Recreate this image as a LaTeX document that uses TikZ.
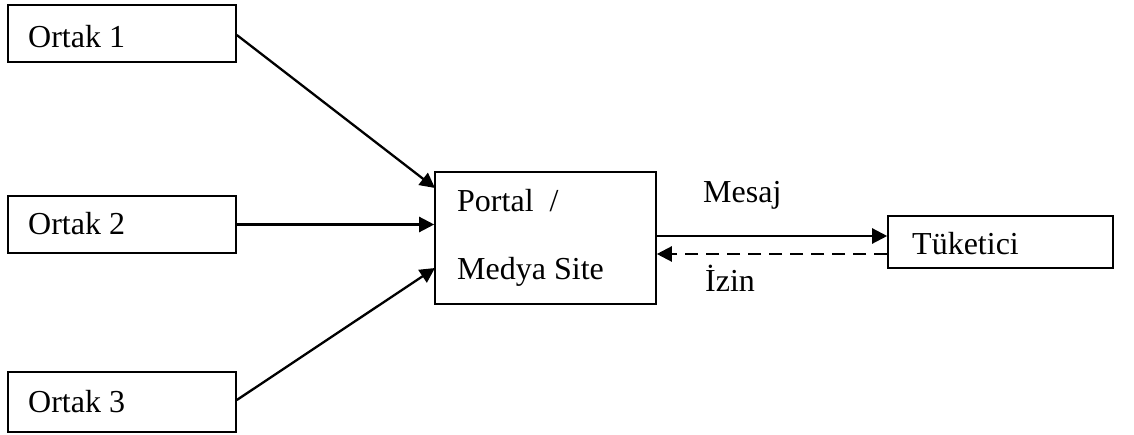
\documentclass[tikz,border=0pt]{standalone}
\usepackage{fontspec}
\setmainfont{Liberation Serif}
\usetikzlibrary{arrows.meta}
\begin{document}
\begin{tikzpicture}[x=1pt,y=-1pt,
  box/.style={draw,line width=1.6pt,inner sep=0pt},
  lbl/.style={anchor=base west,inner sep=0pt,font=\fontsize{32}{38}\selectfont},
  link/.style={line width=2.3pt,-{Triangle[length=15pt,width=15pt]}}]
\useasboundingbox (0,0) rectangle (1134,435);
% partner boxes
\node[box,minimum width=228,minimum height=57] (o1) at (122,33.5) {};
\node[box,minimum width=228,minimum height=57] (o2) at (122,224.5) {};
\node[box,minimum width=228,minimum height=60] (o3) at (122,402) {};
\node[lbl] (t1) at (28,48) {Ortak 1};
\node[lbl] (t2) at (28,235) {Ortak 2};
\node[lbl] (t3) at (28,412) {Ortak 3};
% portal box
\node[box,minimum width=221,minimum height=132] (p) at (545.5,238) {};
\node[lbl] (pt1) at (457,212) {Portal~~/};
\node[lbl] (pt2) at (457,280) {Medya Site};
% consumer box
\node[box,minimum width=225,minimum height=52] (c) at (1000.5,242) {};
\node[lbl] (ct) at (912,255) {Tüketici};
% connectors
\coordinate (p1) at (435,188);
\coordinate (p3) at (435,268);
\draw[link] (o1.east |- 0,35) -- (p1);
\draw[link] (o2.east) -- (o2.east -| p.west);
\draw[link] (o3.east |- 0,400) -- (p3);
\draw[link] (p.east |- 0,236) -- (c.west |- 0,236);
\draw[link,dash pattern=on 13pt off 8pt] (c.west |- 0,254) -- (p.east |- 0,254);
\node[lbl] (m) at (703,203) {Mesaj};
\node[lbl] (iz) at (705,292) {İzin};
\end{tikzpicture}
\end{document}
